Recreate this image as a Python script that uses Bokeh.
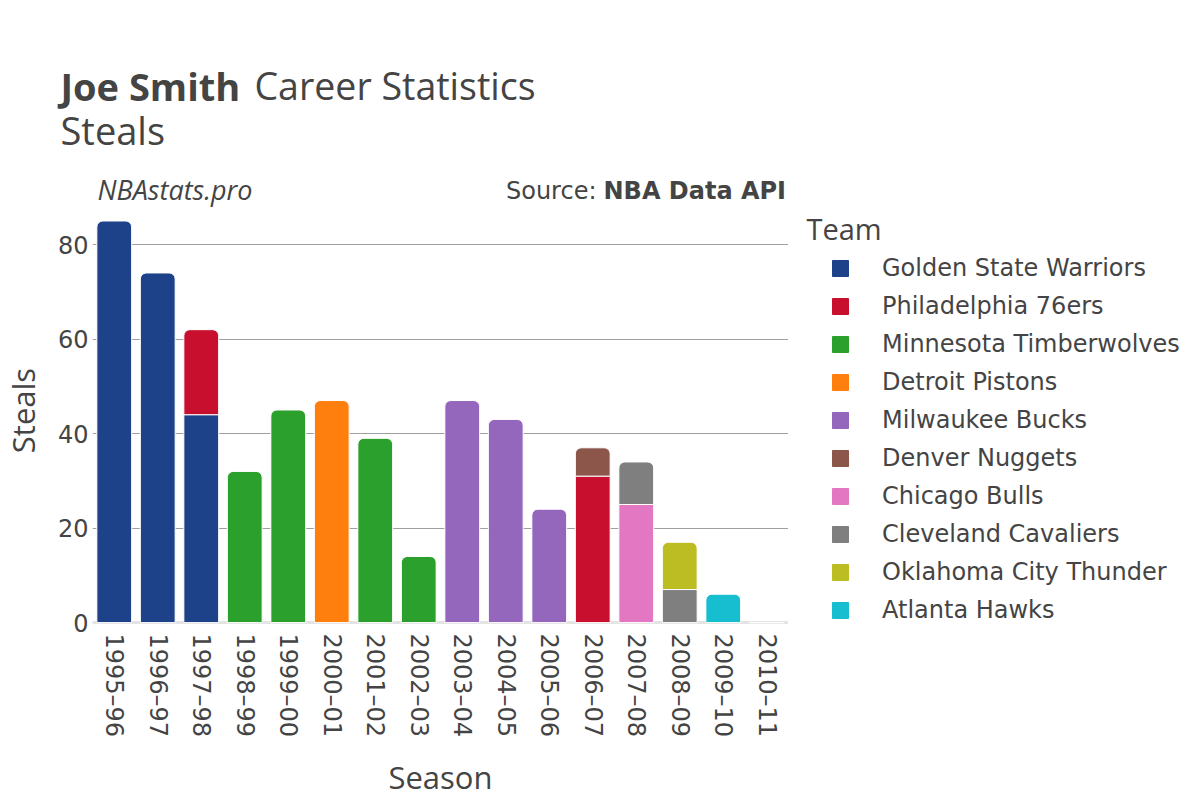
import math
from bokeh.plotting import figure
from bokeh.layouts import column, row
from bokeh.models import (FactorRange, Range1d, Label, Legend, LegendItem, Span,
                          ColumnDataSource, SingleIntervalTicker)
from bokeh.embed import file_html
from bokeh.resources import INLINE

seasons = ["1995–96", "1996–97", "1997–98", "1998–99", "1999–00", "2000–01",
           "2001–02", "2002–03", "2003–04", "2004–05", "2005–06", "2006–07",
           "2007–08", "2008–09", "2009–10", "2010–11"]

teams = ["Golden State Warriors", "Philadelphia 76ers", "Minnesota Timberwolves",
         "Detroit Pistons", "Milwaukee Bucks", "Denver Nuggets", "Chicago Bulls",
         "Cleveland Cavaliers", "Oklahoma City Thunder", "Atlanta Hawks"]

colors = ["#1d428a", "#c8102e", "#2ca02c", "#ff7f0e", "#9467bd", "#8c564b",
          "#e377c2", "#7f7f7f", "#bcbd22", "#17becf"]

N = None
gsw = [85, 74, 44, N, N, N, N, N, N, N, N, N, N, N, N, N]
phi = [N, N, 18, N, N, N, N, N, N, N, N, 31, N, N, N, N]
mnt = [N, N, N, 32, 45, N, 39, 14, N, N, N, N, N, N, N, N]
det = [N, N, N, N, N, 47, N, N, N, N, N, N, N, N, N, N]
mil = [N, N, N, N, N, N, N, N, 47, 43, 24, N, N, N, N, N]
den = [N, N, N, N, N, N, N, N, N, N, N, 6, N, N, N, N]
chi = [N, N, N, N, N, N, N, N, N, N, N, N, 25, N, N, N]
cle = [N, N, N, N, N, N, N, N, N, N, N, N, 9, 7, N, N]
okc = [N, N, N, N, N, N, N, N, N, N, N, N, N, 10, N, N]
atl = [N, N, N, N, N, N, N, N, N, N, N, N, N, N, 6, 0]

series = [gsw, phi, mnt, det, mil, den, chi, cle, okc, atl]

TXT = "#444444"


def blank(w, h):
    f = figure(width=w, height=h, x_range=Range1d(0, w), y_range=Range1d(0, h),
               x_axis_type=None, y_axis_type=None, output_backend="svg",
               toolbar_location=None, min_border=0, outline_line_color=None,
               background_fill_color="white", border_fill_color="white")
    f.title.visible = False
    f.xgrid.visible = False
    f.ygrid.visible = False
    return f


def lab(f, text, x, y, font="Open Sans", size=30, style="normal",
        align="left", angle=0):
    f.add_layout(Label(x=x, y=y, x_units="screen", y_units="screen", text=text,
                       text_font=font, text_font_size=f"{size}px",
                       text_font_style=style, text_color=TXT,
                       text_align=align, text_baseline="middle", angle=angle))


# ---- header (frame = whole figure, y measured from its bottom)
top = blank(1200, 208)
lab(top, "Joe Smith", 60, 123, size=38, style="bold")
lab(top, "Career Statistics", 254, 123, size=37.5)
lab(top, "Steals", 60, 79, size=38)
lab(top, "NBAstats.pro", 97, 19, size=27, style="italic")
lab(top, "Source:", 596, 18, font="DejaVu Sans", size=24, align="right")
lab(top, "NBA Data API", 603, 18, font="DejaVu Sans", size=24, style="bold")

# ---- y axis title (frame aligned with chart frame)
left = blank(48, 544)
lab(left, "Steals", 22, 214, size=31, align="center", angle=math.pi / 2)

# ---- main chart
scale = 4.725  # px per steal
y_min = -0.4
y_max = y_min + 416 / scale
p = figure(width=740, height=544, x_range=FactorRange(*seasons),
           y_range=Range1d(y_min, y_max), output_backend="svg",
           toolbar_location=None, min_border_left=44, min_border_right=0,
           min_border_top=0, min_border_bottom=128, outline_line_color=None,
           background_fill_color="white", border_fill_color="white")
p.title.visible = False

p.add_layout(Span(location=0, dimension="width", line_color="#e4e4e4",
                  line_width=3, level="underlay"))

last_idx = {}
for ti, s in enumerate(series):
    for si, v in enumerate(s):
        if v is not None:
            last_idx[si] = ti

bottoms = [0.0] * len(seasons)
for ti, s in enumerate(series):
    top_seg = dict(x=[], bottom=[], top=[])
    low_seg = dict(x=[], bottom=[], top=[])
    for si, v in enumerate(s):
        if v is None:
            continue
        d = top_seg if last_idx[si] == ti else low_seg
        d["x"].append(seasons[si])
        d["bottom"].append(bottoms[si])
        d["top"].append(bottoms[si] + v)
        bottoms[si] += v
    for d, rad in ((low_seg, 0), (top_seg, 6)):
        if not d["x"]:
            continue
        p.vbar(x="x", bottom="bottom", top="top", width=0.8,
               source=ColumnDataSource(d), fill_color=colors[ti],
               line_color="white", line_width=1,
               border_radius=(rad, rad, 0, 0))

for ax in (p.xaxis[0], p.yaxis[0]):
    ax.axis_line_color = None
    ax.major_tick_line_color = None
    ax.minor_tick_line_color = None
    ax.major_tick_out = 0
    ax.major_tick_in = 0
    ax.major_label_text_font = "DejaVu Sans"
    ax.major_label_text_font_size = "24px"
    ax.major_label_text_color = TXT
p.xaxis.major_label_orientation = -math.pi / 2
p.xaxis.major_label_standoff = 9
p.yaxis.major_label_standoff = 0
p.yaxis.ticker = SingleIntervalTicker(interval=20)
p.xgrid.grid_line_color = None
p.ygrid.grid_line_color = "#a0a0a0"
p.ygrid.grid_line_width = 1

# ---- legend panel (frame aligned with chart frame: page y 208..624)
leg = blank(412, 544)
lab(leg, "Team", 18, 396, size=29)
items = []
for t, c in zip(teams, colors):
    r = leg.vbar(x="x", top="top", width=0.5,
                 source=ColumnDataSource(dict(x=[-100], top=[-100])),
                 fill_color=c, line_color=c, line_width=1, border_radius=4)
    items.append(LegendItem(label=t, renderers=[r]))
legend = Legend(items=items, location=(42, 0), padding=0, margin=0,
                glyph_width=20, glyph_height=20, label_standoff=32,
                label_height=20, spacing=10,
                label_text_font="DejaVu Sans", label_text_font_size="24px",
                label_text_color=TXT, background_fill_alpha=0,
                border_line_alpha=0)
leg.add_layout(legend)

# ---- x axis title
bottom = blank(1200, 48)
lab(bottom, "Season", 440, 24, size=31, align="center")

layout = column(top, row(left, p, leg), bottom)

open("out.html", "w").write(file_html(layout, INLINE))
